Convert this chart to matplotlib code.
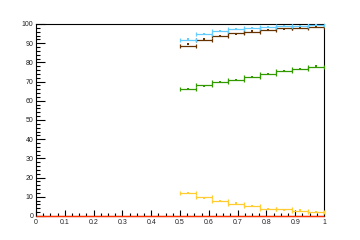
#!/usr/bin/env python3

import numpy as np
import matplotlib
matplotlib.use('Agg')
import matplotlib.pyplot as plt
from matplotlib.ticker import MultipleLocator


# bin edges shared by all efficiency curves (9 bins from 0.5 to 1)
edges = [0.5, 0.5556, 0.6111, 0.6667, 0.7222, 0.7778, 0.8333, 0.8889, 0.9444, 1.0]

# histogram values (horizontal lines) and marker values per series
blue_vals = [91.8, 94.6, 96.2, 97.2, 97.9, 98.4, 99.1, 99.1, 99.3]
blue_marks = [92.4, 94.6, 96.2, 97.2, 97.9, 98.4, 99.1, 99.1, 99.3]
brown_vals = [88.8, 91.5, 93.7, 95.1, 96.0, 96.7, 97.7, 97.8, 98.4]
brown_marks = [89.4, 92.0, 93.7, 94.6, 96.2, 96.7, 97.2, 97.8, 98.4]
green_vals = [66.0, 68.1, 69.6, 70.6, 72.3, 73.8, 75.3, 76.4, 77.6]
green_marks = [66.0, 67.7, 69.6, 71.0, 72.3, 73.8, 75.3, 76.4, 78.0]
yellow_vals = [12.0, 9.9, 7.9, 6.2, 5.1, 3.9, 3.4, 2.6, 2.3]
yellow_marks = [12.0, 9.4, 7.9, 6.6, 5.4, 3.9, 2.9, 2.9, 2.0]

# the flat red curve at zero over the whole range
red_edges = [0.0, 1.0]
red_vals = [0.0]

colors = {
    'blue': '#66ccff',
    'brown': '#663300',
    'green': '#339900',
    'yellow': '#ffcc33',
    'red': '#ff3300',
}

fig = plt.figure(figsize=(3.6, 2.4), dpi=100)
ax = fig.add_axes([0.1, 0.1, 0.8, 0.8])

e = np.array(edges)
centers = (e[:-1] + e[1:]) / 2
half = (e[1:] - e[:-1]) / 2


def draw_series(ax, vals, marks, color):
    '''horizontal bin lines with end caps, plus small markers'''
    ax.errorbar(centers, vals, xerr=half, fmt='none', ecolor=color,
                elinewidth=0.9, capsize=1.6, capthick=0.9, zorder=3)
    ax.plot(centers, marks, ls='none', marker='s', ms=1.6, mew=0,
            color=color, zorder=4)


draw_series(ax, yellow_vals, yellow_marks, colors['yellow'])
draw_series(ax, green_vals, green_marks, colors['green'])
draw_series(ax, brown_vals, brown_marks, colors['brown'])
draw_series(ax, blue_vals, blue_marks, colors['blue'])

ax.hlines(red_vals, red_edges[:-1], red_edges[1:], color=colors['red'],
          lw=1.0, zorder=5, clip_on=False)

ax.set_xlim(0, 1)
ax.set_ylim(0, 100)

ax.xaxis.set_major_locator(MultipleLocator(0.1))
ax.xaxis.set_minor_locator(MultipleLocator(0.025))
ax.yaxis.set_major_locator(MultipleLocator(10))
ax.yaxis.set_minor_locator(MultipleLocator(2))

ax.set_xticks(np.arange(0, 1.01, 0.1))
ax.set_xticklabels(['0', '0.1', '0.2', '0.3', '0.4', '0.5', '0.6', '0.7', '0.8', '0.9', '1'])

for sp in ax.spines.values():
    sp.set_linewidth(0.8)

ax.tick_params(axis='x', which='major', direction='in', length=4.2, width=0.8,
               labelsize=5, pad=2.5, top=False)
ax.tick_params(axis='x', which='minor', direction='in', length=2.1, width=0.8, top=False)
ax.tick_params(axis='y', which='major', direction='in', length=6.2, width=0.8,
               labelsize=5, pad=2, right=False)
ax.tick_params(axis='y', which='minor', direction='in', length=3.1, width=0.8, right=False)

for lbl in ax.get_xticklabels() + ax.get_yticklabels():
    lbl.set_family(['Liberation Sans', 'DejaVu Sans'])
    lbl.set_color('#222222')

fig.savefig('out.png', dpi=100)
